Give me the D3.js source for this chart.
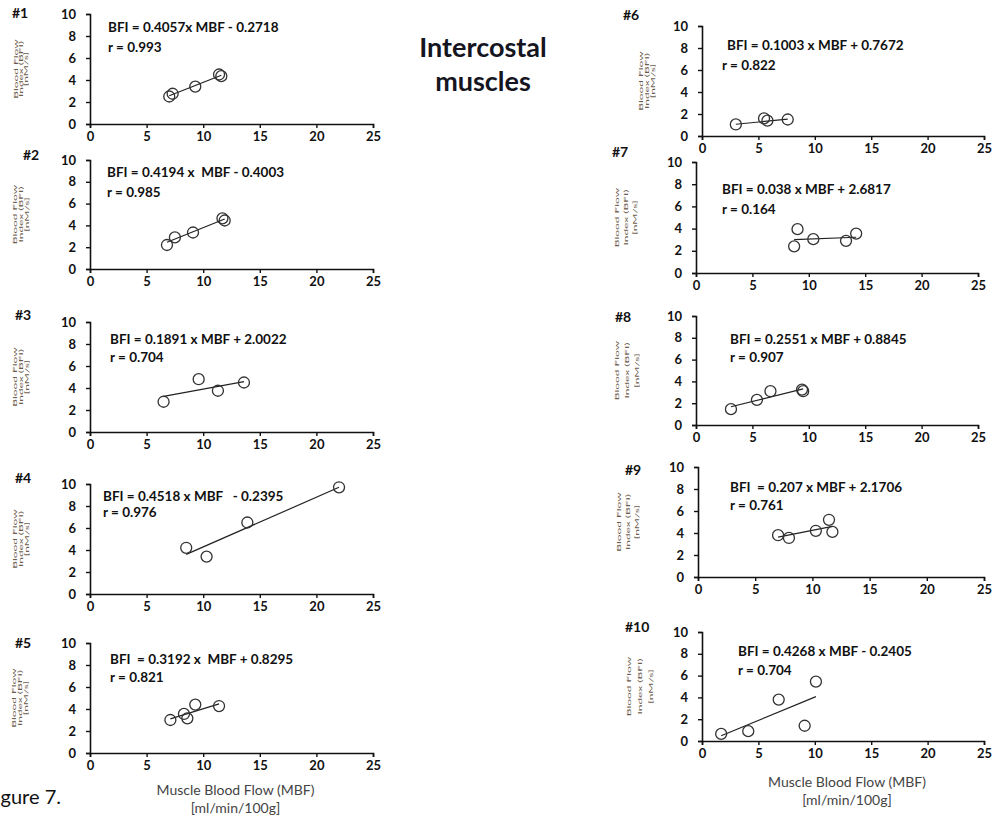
<!DOCTYPE html>
<html>
<head>
<meta charset="utf-8">
<script src="https://cdn.jsdelivr.net/npm/d3@7"></script>
<style>
  body { margin: 0; background: #fff; }
  svg { font-family: Lato, "Open Sans", sans-serif; }
  text { white-space: pre; }
</style>
</head>
<body>
<svg id="drawing_region"></svg>
<script>
// values
const panelNames = ["#1", "#2", "#3", "#4", "#5", "#6", "#7", "#8", "#9", "#10"];
const mbf = [
    [7.0, 7.3, 9.3, 11.4, 11.6],
    [6.8, 7.5, 9.1, 11.7, 11.9],
    [6.5, 9.6, 11.3, 13.6],
    [8.5, 10.3, 13.9, 22.0],
    [7.1, 8.3, 8.6, 9.3, 11.4],
    [3.0, 5.5, 5.8, 7.6],
    [8.7, 9.0, 10.4, 13.3, 14.2],
    [3.1, 5.4, 6.6, 9.4, 9.5],
    [7.0, 7.95, 10.3, 11.45, 11.75],
    [1.7, 4.1, 6.8, 9.1, 10.1]
];
const bfi = [
    [2.5, 2.75, 3.4, 4.5, 4.35],
    [2.2, 2.9, 3.35, 4.65, 4.45],
    [2.75, 4.8, 3.75, 4.5],
    [4.2, 3.4, 6.5, 9.7],
    [3.0, 3.55, 3.15, 4.4, 4.27],
    [1.05, 1.6, 1.4, 1.5],
    [2.4, 3.95, 3.05, 2.9, 3.55],
    [1.45, 2.3, 3.1, 3.25, 3.1],
    [3.8, 3.55, 4.2, 5.2, 4.1],
    [0.65, 0.9, 3.8, 1.4, 5.45]
];
const slopes = [0.4057, 0.4194, 0.1891, 0.4518, 0.3192, 0.1003, 0.038, 0.2551, 0.207, 0.4268];
const intercepts = [-0.2718, -0.4003, 2.0022, -0.2395, 0.8295, 0.7672, 2.6817, 0.8845, 2.1706, -0.2405];
const eqLabels = [
    "BFI = 0.4057x MBF - 0.2718",
    "BFI = 0.4194 x  MBF - 0.4003",
    "BFI = 0.1891 x MBF + 2.0022",
    "BFI = 0.4518 x MBF   - 0.2395",
    "BFI  = 0.3192 x  MBF + 0.8295",
    "BFI = 0.1003 x MBF + 0.7672",
    "BFI = 0.038 x MBF + 2.6817",
    "BFI = 0.2551 x MBF + 0.8845",
    "BFI  = 0.207 x MBF + 2.1706",
    "BFI = 0.4268 x MBF - 0.2405"
];
const rLabels = ["r = 0.993", "r = 0.985", "r = 0.704", "r = 0.976", "r = 0.821",
                 "r = 0.822", "r = 0.164", "r = 0.907", "r = 0.761", "r = 0.704"];
const xTicks = [0, 5, 10, 15, 20, 25];
const yTicks = [0, 2, 4, 6, 8, 10];
const yLabelLines = ["Blood Flow", "Index (BFI)", "[nM/s]"];
const xLabelLines = ["Muscle Blood Flow (MBF)", "[ml/min/100g]"];

// where each small chart sits on the page
// nx/ny: panel number, ex/ey: equation, rx/ry: r line, lx: y label centre, ls: y label line gap
const layout = [
    {left: 90, top: 14, w: 283, h: 110, nx: 12, ny: 18, ex: 18, ey: 13, rx: 18, ry: 33, lx: -69, ls: 5.5},
    {left: 90, top: 160, w: 283, h: 109, nx: 23, ny: 160, ex: 17, ey: 12, rx: 17, ry: 32, lx: -69, ls: 6},
    {left: 90, top: 322, w: 283, h: 110, nx: 15, ny: 320, ex: 20, ey: 17, rx: 20, ry: 35, lx: -69, ls: 6},
    {left: 90, top: 484, w: 283, h: 110, nx: 15, ny: 483, ex: 13, ey: 12, rx: 13, ry: 28, lx: -69, ls: 6},
    {left: 90, top: 643, w: 283, h: 110, nx: 15, ny: 648, ex: 20, ey: 16, rx: 20, ry: 34, lx: -70, ls: 6.5},
    {left: 702, top: 26, w: 282, h: 110, nx: 623, ny: 20, ex: 25, ey: 19, rx: 20, ry: 39, lx: -55, ls: 6},
    {left: 696, top: 162, w: 282, h: 111, nx: 612, ny: 157, ex: 26, ey: 27, rx: 26, ry: 47, lx: -70, ls: 9},
    {left: 696, top: 316, w: 282, h: 109, nx: 615, ny: 322, ex: 34, ey: 23, rx: 34, ry: 41, lx: -69, ls: 10},
    {left: 698, top: 467, w: 286, h: 110, nx: 625, ny: 475, ex: 32, ey: 20, rx: 32, ry: 38, lx: -70, ls: 9},
    {left: 702, top: 632, w: 282, h: 109, nx: 625, ny: 632, ex: 36, ey: 19, rx: 36, ry: 38, lx: -62, ls: 11}
];

const svg = d3.select('#drawing_region')
    .attr('width', 996)
    .attr('height', 819);

panelNames.forEach((name, i) => {
    const L = layout[i];
    const xscale = d3.scaleLinear().domain([0, 25]).range([0, L.w]);
    const yscale = d3.scaleLinear().domain([0, 10]).range([L.h, 0]);

    const g = svg.append('g')
        .attr('transform', `translate(${L.left}, ${L.top})`);

    // axes
    const xg = g.append('g')
        .attr('transform', `translate(0, ${L.h})`)
        .call(d3.axisBottom(xscale).tickValues(xTicks).tickSize(4).tickPadding(4).tickSizeOuter(4));
    const yg = g.append('g')
        .call(d3.axisLeft(yscale).tickValues(yTicks).tickSize(4).tickPadding(10).tickSizeOuter(4));
    [xg, yg].forEach(a => {
        a.select('.domain').attr('stroke', '#111').attr('stroke-width', 1.6);
        a.selectAll('.tick line').attr('stroke', '#111').attr('stroke-width', 1.4);
        a.selectAll('.tick text')
            .attr('fill', '#111')
            .style('font-size', '13px')
            .style('font-weight', 'bold')
            .style('font-family', 'Lato, sans-serif');
    });

    // regression line over the data range
    const xs = d3.extent(mbf[i]);
    g.append('line')
        .attr('x1', xscale(xs[0]))
        .attr('y1', yscale(slopes[i] * xs[0] + intercepts[i]))
        .attr('x2', xscale(xs[1]))
        .attr('y2', yscale(slopes[i] * xs[1] + intercepts[i]))
        .attr('stroke', '#222')
        .attr('stroke-width', 1.2);

    // points
    g.selectAll('circle')
        .data(mbf[i].map((v, k) => ({x: v, y: bfi[i][k]})))
        .join('circle')
        .attr('cx', d => xscale(d.x))
        .attr('cy', d => yscale(d.y))
        .attr('r', 5.5)
        .attr('fill', 'none')
        .attr('stroke', '#333')
        .attr('stroke-width', 1.3);

    // equation and r
    g.append('text')
        .attr('x', L.ex).attr('y', L.ey)
        .attr('dy', '0.35em')
        .style('font-size', '13.5px').style('font-weight', 'bold')
        .attr('fill', '#111')
        .text(eqLabels[i]);
    g.append('text')
        .attr('x', L.rx).attr('y', L.ry)
        .attr('dy', '0.35em')
        .style('font-size', '13.5px').style('font-weight', 'bold')
        .attr('fill', '#111')
        .text(rLabels[i]);

    // y label, three rotated lines stretched along the axis
    const yl = g.append('text')
        .attr('transform', `translate(${L.lx - L.ls}, ${L.h / 2}) rotate(-90) scale(2.3, 1)`)
        .attr('text-anchor', 'middle')
        .style('font-size', '5.2px')
        .attr('fill', '#6b5a4a');
    yLabelLines.forEach((t, k) => {
        yl.append('tspan').attr('x', 0).attr('y', k * L.ls + 2).text(t);
    });

    // panel number
    svg.append('text')
        .attr('x', L.nx).attr('y', L.ny)
        .style('font-size', '14px').style('font-weight', 'bold')
        .attr('fill', '#111')
        .text(name);

    // x label under the bottom panel of each column
    if (i === 4 || i === 9) {
        const off = i === 4 ? 37 : 41;
        xLabelLines.forEach((t, k) => {
            g.append('text')
                .attr('x', L.w / 2 + 4)
                .attr('y', L.h + off + k * 18)
                .attr('dy', '0.35em')
                .attr('text-anchor', 'middle')
                .style('font-size', '14px')
                .attr('fill', '#444')
                .text(t);
        });
    }
});

// title
svg.append('text')
    .attr('x', 483).attr('y', 48)
    .attr('dy', '0.35em')
    .attr('text-anchor', 'middle')
    .style('font-size', '27px').style('font-weight', 'bold')
    .attr('fill', '#15151f')
    .text('Intercostal');
svg.append('text')
    .attr('x', 483).attr('y', 82)
    .attr('dy', '0.35em')
    .attr('text-anchor', 'middle')
    .style('font-size', '27px').style('font-weight', 'bold')
    .attr('fill', '#15151f')
    .text('muscles');

// caption, cut off at the left edge as in the source
svg.append('text')
    .attr('x', 61).attr('y', 804)
    .attr('text-anchor', 'end')
    .style('font-size', '20px')
    .attr('fill', '#111')
    .text('Figure 7.');
</script>
</body>
</html>
